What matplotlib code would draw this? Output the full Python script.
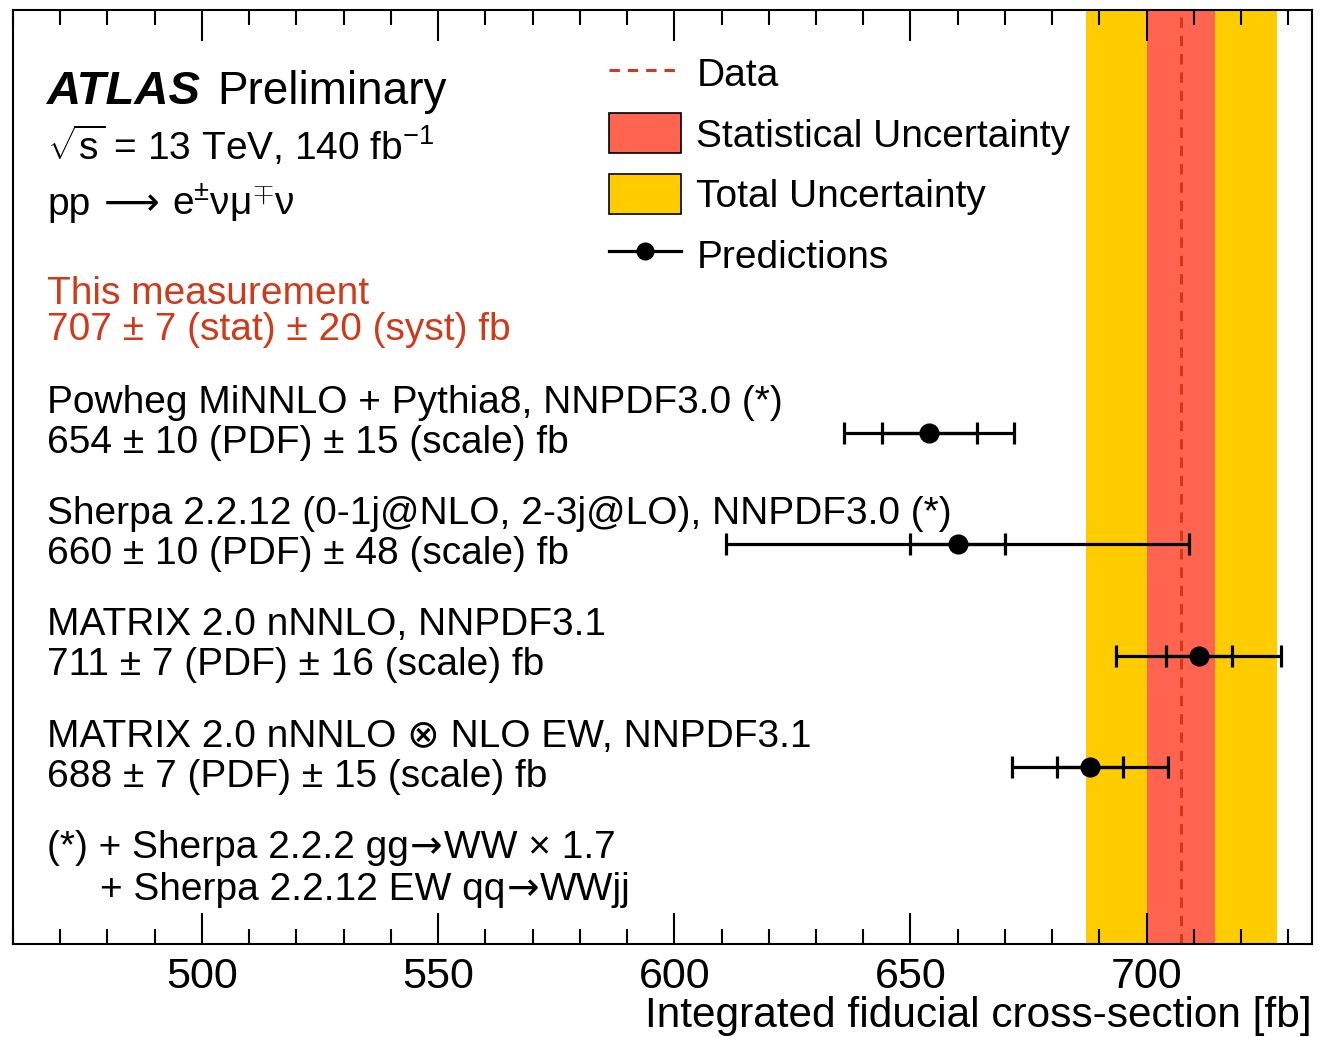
import matplotlib
matplotlib.use("Agg")
import matplotlib.pyplot as plt
from matplotlib.patches import Patch
from matplotlib.lines import Line2D
from matplotlib.ticker import MultipleLocator

# measurement
data_val = 707.2
stat_lo, stat_hi = 700.0, 714.4
tot_lo, tot_hi = 687.1, 727.5

# predictions (top to bottom)
pred_names = [
    "Powheg MiNNLO + Pythia8, NNPDF3.0 (*)",
    "Sherpa 2.2.12 (0-1j@NLO, 2-3j@LO), NNPDF3.0 (*)",
    "MATRIX 2.0 nNNLO, NNPDF3.1",
    "MATRIX 2.0 nNNLO \u2297 NLO EW, NNPDF3.1",
]
pred_vals = [654, 660, 711, 688]
pred_pdf = [10, 10, 7, 7]
pred_scale = [15, 48, 16, 15]
pred_tot = [18, 49, 17.5, 16.5]

RED = "#ff6450"
YELLOW = "#ffcc00"
DATA_C = "#d03a1a"
LIB = ["Liberation Sans", "DejaVu Sans"]
DJV = ["DejaVu Sans"]

plt.rcParams["font.family"] = LIB
plt.rcParams["mathtext.fontset"] = "custom"
plt.rcParams["mathtext.rm"] = "Liberation Sans"
plt.rcParams["mathtext.it"] = "Liberation Sans:italic"

W, H = 1334, 1037
FS = 28
DASH = (0, (3.4, 2.6))


def main():
    fig = plt.figure(figsize=(W / 100, H / 100), dpi=100)
    ax = fig.add_axes([13 / W, 1 - 944 / H, (1312 - 13) / W, (944 - 10) / H])
    renderer = fig.canvas.get_renderer()

    ax.axvspan(tot_lo, tot_hi, color=YELLOW, lw=0, zorder=0)
    ax.axvspan(stat_lo, stat_hi, color=RED, lw=0, zorder=1)
    ax.axvline(data_val, color=DATA_C, lw=2.2, ls=DASH, zorder=2)

    ypos = [4, 3, 2, 1]
    for y, v, p, t in zip(ypos, pred_vals, pred_pdf, pred_tot):
        ax.errorbar(v, y, xerr=t, fmt="none", ecolor="black", elinewidth=2.3,
                    capsize=8, capthick=2.3, zorder=3)
        ax.errorbar(v, y, xerr=p, fmt="o", color="black", ms=13.5, elinewidth=2.3,
                    capsize=8, capthick=2.3, zorder=4)

    ax.set_xlim(460, 735)
    ax.set_ylim(-0.59, 7.80)
    ax.set_yticks([])
    ax.xaxis.set_major_locator(MultipleLocator(50))
    ax.xaxis.set_minor_locator(MultipleLocator(10))
    ax.tick_params(axis="x", which="both", direction="in", top=True, bottom=True,
                   width=1.5, labelsize=31, pad=9)
    ax.tick_params(axis="x", which="major", length=22)
    ax.tick_params(axis="x", which="minor", length=11)
    for s in ax.spines.values():
        s.set_linewidth(1.5)

    fig.text(1312 / W, 1 - 1027 / H, "Integrated fiducial cross-section [fb]",
             ha="right", va="baseline", fontsize=30.5)

    def txt(x, y, s, **kw):
        kw.setdefault("fontsize", FS)
        return fig.text(x / W, 1 - y / H, s, va="baseline", **kw)

    def seq(x, y, parts):
        # parts: (string, family, gap in px after it)
        for s, fam, gap in parts:
            t = txt(x, y, s, family=fam)
            x += t.get_window_extent(renderer).width + gap

    txt(47, 104, "ATLAS", fontsize=34, weight="bold", style="italic")
    txt(217, 104, "Preliminary", fontsize=33)
    txt(47, 160, r"$\sqrt{\mathrm{s}}$ = 13 TeV, 140 fb$^{\mathrm{-1}}$")
    seq(47, 215, [("pp", LIB, 14), ("\u27f6", DJV, 12),
                  ("e$^{\\pm}$\u03bd\u03bc$^{\\mp}$\u03bd", LIB, 0)])
    txt(47, 304, "This measurement", color=DATA_C)
    txt(47, 340, "707 \u00b1 7 (stat) \u00b1 20 (syst) fb", color=DATA_C)

    line_y = [413, 524, 635, 747]
    for ly, name, v, p, sc in zip(line_y, pred_names, pred_vals, pred_pdf, pred_scale):
        txt(47, ly, name)
        txt(47, ly + 40, f"{v} \u00b1 {p} (PDF) \u00b1 {sc} (scale) fb")

    seq(47, 858, [("(*) + Sherpa 2.2.2 gg", LIB, 1), ("\u2192", DJV, 1),
                  ("WW \u00d7 1.7", LIB, 0)])
    seq(100, 900, [("+ Sherpa 2.2.12 EW qq", LIB, 1), ("\u2192", DJV, 1),
                   ("WWjj", LIB, 0)])

    handles = [
        Line2D([], [], color=DATA_C, lw=2.2, ls=DASH),
        Patch(facecolor=RED, edgecolor="black", lw=1.2),
        Patch(facecolor=YELLOW, edgecolor="black", lw=1.2),
        Line2D([], [], color="black", lw=2.3, marker="o", ms=12),
    ]
    labels = ["Data", "Statistical Uncertainty", "Total Uncertainty", "Predictions"]
    ax.legend(handles, labels, loc="upper left", bbox_to_anchor=(609 / W, 1 - 53 / H),
              bbox_transform=fig.transFigure, frameon=False, fontsize=FS,
              handlelength=1.85, handleheight=1.2, handletextpad=0.4, labelspacing=0.5,
              borderpad=0, borderaxespad=0)

    fig.savefig("out.png", dpi=100)


if __name__ == "__main__":
    main()
